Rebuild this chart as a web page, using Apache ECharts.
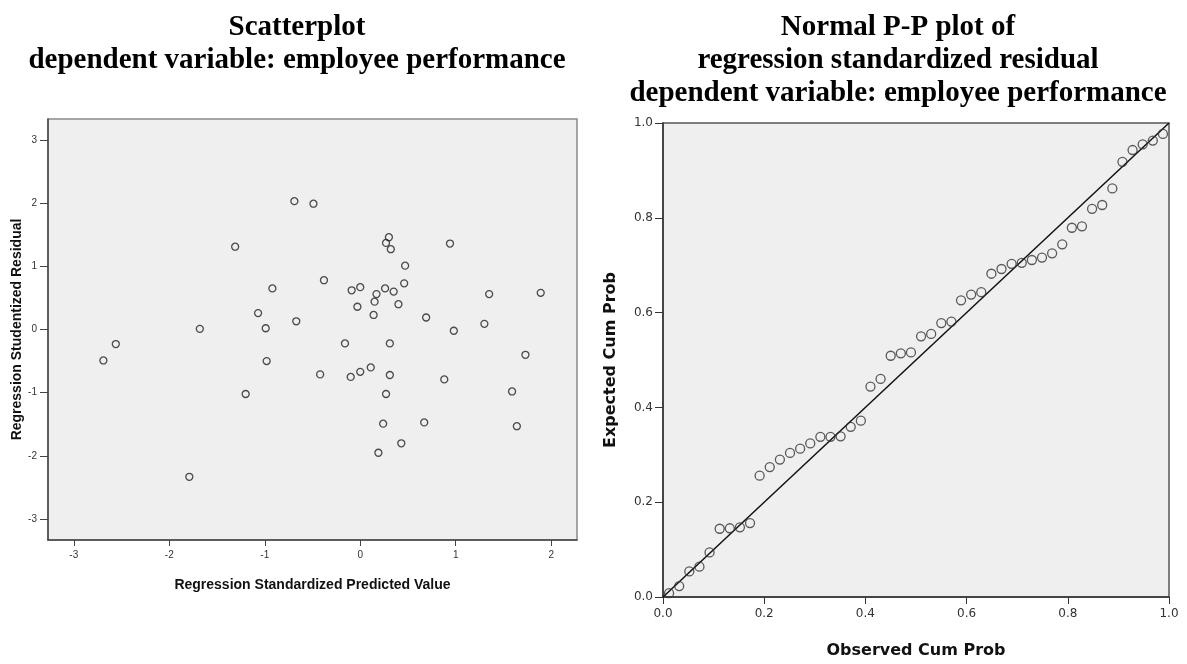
<!DOCTYPE html>
<html>
<head>
<meta charset="utf-8">
<script src="https://cdn.jsdelivr.net/npm/echarts@6/dist/echarts.min.js"></script>
<style>
  html, body { margin: 0; padding: 0; background: #fff; }
  #chart { width: 1187px; height: 664px; }
</style>
</head>
<body>
<div id="chart"></div>
<script>
// 残差散点图：标准化预测值 / 学生化残差
const predicted = [-2.69, -2.56, -1.79, -1.68, -1.31, -1.20, -1.07, -0.99, -0.98, -0.92,
    -0.69, -0.67, -0.49, -0.42, -0.38, -0.16, -0.10, -0.09, -0.03, 0.00,
    0.00, 0.11, 0.14, 0.15, 0.17, 0.19, 0.24, 0.26, 0.27, 0.27,
    0.30, 0.31, 0.31, 0.32, 0.35, 0.40, 0.43, 0.46, 0.47, 0.67,
    0.69, 0.88, 0.94, 0.98, 1.30, 1.35, 1.59, 1.64, 1.73, 1.89];
const residual = [-0.49, -0.23, -2.33, 0.01, 1.31, -1.02, 0.26, 0.02, -0.50, 0.65,
    2.03, 0.13, 1.99, -0.71, 0.78, -0.22, -0.75, 0.62, 0.36, 0.67,
    -0.67, -0.60, 0.23, 0.44, 0.56, -1.95, -1.49, 0.65, 1.37, -1.02,
    1.46, -0.22, -0.72, 1.27, 0.60, 0.40, -1.80, 0.73, 1.01, -1.47,
    0.19, -0.79, 1.36, -0.02, 0.09, 0.56, -0.98, -1.53, -0.40, 0.58];
const scatterXTicks = [-3, -2, -1, 0, 1, 2];
const scatterYTicks = [-3, -2, -1, 0, 1, 2, 3];

// 正态 P-P 图
const observedCum = [0.012, 0.032, 0.052, 0.072, 0.092, 0.112, 0.132, 0.152, 0.172, 0.191,
    0.211, 0.231, 0.251, 0.271, 0.291, 0.311, 0.331, 0.351, 0.371, 0.391,
    0.410, 0.430, 0.450, 0.470, 0.490, 0.510, 0.530, 0.550, 0.570, 0.589,
    0.609, 0.629, 0.649, 0.669, 0.689, 0.709, 0.729, 0.749, 0.769, 0.789,
    0.808, 0.828, 0.848, 0.868, 0.888, 0.908, 0.928, 0.948, 0.968, 0.988];
const expectedCum = [0.008, 0.023, 0.054, 0.064, 0.094, 0.144, 0.145, 0.147, 0.156, 0.256,
    0.274, 0.290, 0.304, 0.313, 0.324, 0.338, 0.338, 0.339, 0.359, 0.372,
    0.444, 0.460, 0.509, 0.514, 0.516, 0.550, 0.555, 0.578, 0.581, 0.626,
    0.638, 0.643, 0.682, 0.692, 0.703, 0.705, 0.711, 0.716, 0.725, 0.744,
    0.779, 0.782, 0.819, 0.827, 0.862, 0.918, 0.943, 0.955, 0.963, 0.977];
const diagonal = [[0, 0], [1, 1]];

const scatterData = [];
for (let i = 0; i < predicted.length; i++) {
    scatterData.push([predicted[i], residual[i]]);
}
const ppData = [];
for (let i = 0; i < observedCum.length; i++) {
    ppData.push([observedCum[i], expectedCum[i]]);
}

const chart = echarts.init(document.getElementById('chart'));

const titleFont = { fontFamily: 'Liberation Serif', fontWeight: 'bold', fontSize: 29, lineHeight: 33, color: '#000' };
const sansLabel = { fontFamily: 'Liberation Sans', fontSize: 10, color: '#333' };
const ppLabel = { fontFamily: 'DejaVu Sans', fontSize: 12, color: '#333' };

const option = {
    backgroundColor: '#fff',
    animation: false,
    title: [
        {
            text: 'Scatterplot\ndependent variable: employee performance',
            left: 292, top: 6, textAlign: 'center',
            textStyle: titleFont
        },
        {
            text: 'Normal P-P plot of\nregression standardized residual\ndependent variable: employee performance',
            left: 893, top: 6, textAlign: 'center',
            textStyle: titleFont
        }
    ],
    grid: [
        {
            left: 48, top: 119, width: 529, height: 421,
            show: true, backgroundColor: '#efefef',
            borderColor: '#8a8a8a', borderWidth: 1.5
        },
        {
            left: 663, top: 123, width: 506, height: 484,
            show: true, backgroundColor: '#efefef',
            borderColor: '#555', borderWidth: 1.5
        }
    ],
    xAxis: [
        {
            gridIndex: 0, type: 'value', min: -3.27, max: 2.27,
            name: 'Regression Standardized Predicted Value',
            nameLocation: 'middle', nameGap: 38,
            nameTextStyle: { fontFamily: 'Liberation Sans', fontWeight: 'bold', fontSize: 14, color: '#111' },
            axisLine: { show: true, onZero: false, lineStyle: { color: '#444', width: 1.5 } },
            axisTick: { show: true, length: 6, lineStyle: { color: '#444' }, customValues: scatterXTicks },
            axisLabel: { margin: 10, customValues: scatterXTicks, ...sansLabel },
            splitLine: { show: false }
        },
        {
            gridIndex: 1, type: 'value', min: 0, max: 1, interval: 0.2,
            name: 'Observed Cum Prob',
            nameLocation: 'middle', nameGap: 46,
            nameTextStyle: { fontFamily: 'DejaVu Sans', fontWeight: 'bold', fontSize: 16, color: '#111' },
            axisLine: { show: true, onZero: false, lineStyle: { color: '#333', width: 1.5 } },
            axisTick: { show: true, length: 7, lineStyle: { color: '#333' } },
            axisLabel: { margin: 11, formatter: function(v) { return v.toFixed(1); }, ...ppLabel },
            splitLine: { show: false }
        }
    ],
    yAxis: [
        {
            gridIndex: 0, type: 'value', min: -3.33, max: 3.33,
            name: 'Regression Studentized Residual',
            nameLocation: 'middle', nameGap: 22,
            nameTextStyle: { fontFamily: 'Liberation Sans', fontWeight: 'bold', fontSize: 14, color: '#111' },
            axisLine: { show: true, onZero: false, lineStyle: { color: '#444', width: 1.5 } },
            axisTick: { show: true, length: 8, lineStyle: { color: '#444' }, customValues: scatterYTicks },
            axisLabel: { margin: 11, customValues: scatterYTicks, ...sansLabel },
            splitLine: { show: false }
        },
        {
            gridIndex: 1, type: 'value', min: 0, max: 1, interval: 0.2,
            name: 'Expected Cum Prob',
            nameLocation: 'middle', nameGap: 44,
            nameTextStyle: { fontFamily: 'DejaVu Sans', fontWeight: 'bold', fontSize: 16, color: '#111' },
            axisLine: { show: true, onZero: false, lineStyle: { color: '#333', width: 1.5 } },
            axisTick: { show: true, length: 8, lineStyle: { color: '#333' } },
            axisLabel: { margin: 10, formatter: function(v) { return v.toFixed(1); }, ...ppLabel },
            splitLine: { show: false }
        }
    ],
    series: [
        {
            name: 'residuals',
            type: 'scatter',
            xAxisIndex: 0, yAxisIndex: 0,
            data: scatterData,
            symbol: 'circle', symbolSize: 7,
            itemStyle: { color: 'rgba(0,0,0,0)', borderColor: '#222', borderWidth: 1.3 }
        },
        {
            name: 'diagonal',
            type: 'line',
            xAxisIndex: 1, yAxisIndex: 1,
            data: diagonal,
            showSymbol: false,
            lineStyle: { color: '#111', width: 1.5 },
            z: 3
        },
        {
            name: 'pp',
            type: 'scatter',
            xAxisIndex: 1, yAxisIndex: 1,
            data: ppData,
            symbol: 'circle', symbolSize: 9,
            itemStyle: { color: 'rgba(0,0,0,0)', borderColor: '#333', borderWidth: 1.3 },
            z: 4
        }
    ]
};

chart.setOption(option);
</script>
</body>
</html>
